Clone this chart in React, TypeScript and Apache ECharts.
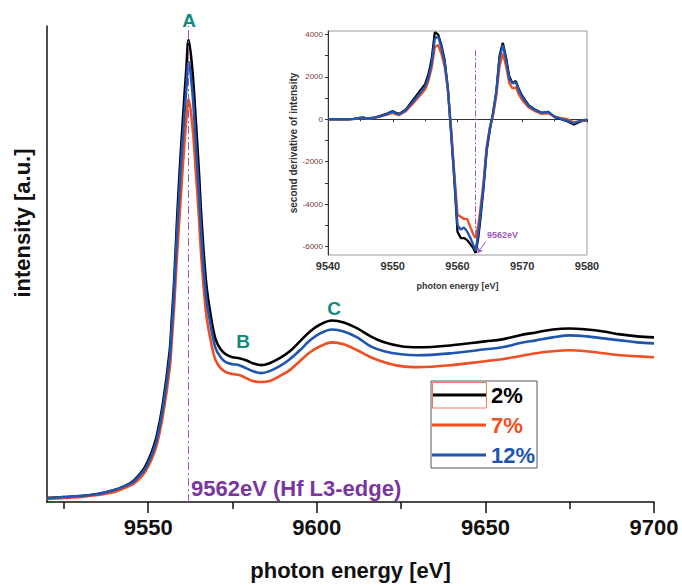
import React, { useEffect, useRef } from 'react';
import * as echarts from 'echarts';

const FONT = '"Liberation Sans", Arial, Helvetica, sans-serif';

// ---------- main XANES spectra (photon energy [eV] vs intensity [a.u.]) ----------
const energy = [
  9520, 9525, 9530, 9535, 9540, 9543, 9545.5, 9547, 9549, 9551,
  9552.5, 9554.4, 9556.4, 9557, 9557.7, 9558.5, 9559.4, 9560.3, 9561.3, 9562,
  9563.1, 9564.1, 9565, 9565.8, 9567.2, 9568.7, 9570, 9571.5, 9573, 9575,
  9577, 9579, 9581, 9583.5, 9586, 9589, 9592, 9595, 9598, 9601,
  9604.5, 9608, 9612, 9616, 9620, 9625, 9630, 9640, 9650, 9655,
  9660, 9665, 9670, 9675, 9680, 9685, 9690, 9695, 9700,
];
const int2 = [
  4, 5, 6, 8, 12, 16, 21, 26, 35, 50,
  66, 100, 153, 184, 222, 280, 337, 386, 436, 466,
  436, 386, 336, 286, 221, 185, 164, 154, 149, 146,
  145, 143, 140, 138, 140, 145, 152, 162, 172, 179,
  183, 181, 175, 167, 161, 157, 156, 158, 162, 164,
  168, 171, 174, 175, 174, 172, 169, 167, 166,
];
const int7 = [
  3, 4, 5, 7, 10, 14, 18, 22, 30, 43,
  57, 88, 135, 162, 197, 245, 293, 340, 385, 406,
  380, 335, 290, 245, 190, 160, 143, 135, 131, 129,
  128, 125, 122, 121, 122, 127, 133, 142, 151, 157,
  161, 159, 153, 146, 141, 137, 136, 138, 142, 144,
  147, 150, 152, 153, 152, 150, 148, 147, 146,
];
const int12 = [
  4, 5, 6, 8, 12, 16, 20, 25, 33, 47,
  62, 95, 146, 176, 213, 268, 322, 369, 416, 444,
  414, 364, 316, 268, 207, 175, 155, 146, 141, 139,
  138, 135, 132, 130, 132, 137, 144, 153, 163, 170,
  174, 172, 166, 157, 152, 149, 148, 150, 154, 156,
  160, 163, 166, 168, 167, 165, 163, 161, 160,
];

// ---------- inset: second derivative of intensity ----------
const insetEnergy = [
  9540, 9541, 9542, 9543, 9544, 9545, 9545.5, 9546, 9547, 9548,
  9549, 9550, 9550.5, 9551, 9552, 9553, 9554, 9555, 9555.5, 9556,
  9556.5, 9557, 9557.5, 9558, 9558.5, 9559, 9559.5, 9560, 9560.5, 9561,
  9561.5, 9562, 9562.4, 9562.8, 9563.2, 9563.5, 9564, 9564.5, 9565, 9565.5,
  9566, 9566.5, 9567, 9567.5, 9568, 9568.5, 9569, 9569.5, 9570, 9571,
  9572, 9573, 9574, 9575, 9576, 9577, 9578, 9579, 9580,
];
const d2of2 = [
  0, 0, 0, 0, 20, 60, 80, 30, 70, 150,
  250, 380, 300, 250, 450, 850, 1250, 1650, 2100, 2800,
  4100, 4000, 3500, 2800, 1500, -600, -2800, -5300, -5600, -5600,
  -5700, -5900, -6050, -6300, -5600, -4800, -3300, -1500, -500, 300,
  1300, 3000, 3600, 2900, 2000, 1700, 1800, 1400, 1100, 650,
  450, 300, 350, 100, 0, -100, -250, -100, -50,
];
const d2of7 = [
  0, 0, 0, 0, 10, 50, 60, 20, 50, 120,
  200, 300, 230, 200, 380, 700, 1050, 1400, 1800, 2400,
  3400, 3500, 3100, 2500, 1400, -400, -2500, -4500, -4600, -4700,
  -4700, -5100, -5400, -5600, -5000, -4300, -3000, -1300, -400, 200,
  1100, 2500, 3100, 2500, 1700, 1450, 1500, 1150, 900, 550,
  380, 250, 280, 120, 50, 0, -150, -80, -60,
];
const d2of12 = [
  0, 0, 0, 0, 20, 80, 80, 30, 60, 130,
  230, 360, 280, 240, 420, 780, 1150, 1550, 1950, 2600,
  3800, 3900, 3400, 2700, 1500, -500, -2700, -5000, -5200, -5100,
  -5300, -5600, -5900, -6200, -5400, -4600, -3200, -1400, -400, 300,
  1300, 2900, 3500, 2800, 1900, 1700, 1750, 1350, 1050, 620,
  430, 300, 350, 120, 20, -80, -200, -60, -20,
];

const seriesNames = ['2%', '7%', '12%'];
const mainTicks = [9550, 9600, 9650, 9700];
const mainMinorTicks = [9525, 9575, 9625, 9675];
const insetYLabels = [-6000, -4000, -2000, 0, 2000, 4000];
const insetYTicks = [-6000, -5000, -4000, -3000, -2000, -1000, 0, 1000, 2000, 3000, 4000];
const edgeEnergy = 9562;
const insetEdgeEnergy = 9562.8;

const C_BLACK = '#000000';
const C_ORANGE = '#f04e23';
const C_BLUE = '#1f55b0';
const C_TEAL = '#14887c';
const C_PURPLE = '#7a35a0';
const C_PURPLE_LIGHT = '#9b59b6';

const pairs = (xs: number[], ys: number[]) => xs.map((x, i) => [x, ys[i]]);
const plain = (v: number) => String(v);

export default function App() {
  const ref = useRef<HTMLDivElement>(null);

  useEffect(() => {
    if (!ref.current) return;
    const chart = echarts.init(ref.current, undefined, { renderer: 'svg' });

    const mainLine = (name: string, data: number[], color: string, extra: any = {}) => ({
      type: 'line',
      name,
      xAxisIndex: 0,
      yAxisIndex: 0,
      data: pairs(energy, data),
      symbol: 'none',
      showSymbol: false,
      smooth: 0.35,
      lineStyle: { color, width: 2.6 },
      itemStyle: { color },
      ...extra,
    });
    const insetLine = (name: string, data: number[], color: string, extra: any = {}) => ({
      type: 'line',
      name,
      xAxisIndex: 2,
      yAxisIndex: 1,
      data: pairs(insetEnergy, data),
      symbol: 'none',
      showSymbol: false,
      lineStyle: { color, width: 2.3 },
      itemStyle: { color },
      ...extra,
    });

    const option: any = {
      animation: false,
      backgroundColor: '#ffffff',
      textStyle: { fontFamily: FONT },
      grid: [
        { left: 47, right: 28, top: 26, bottom: 80 },
        {
          left: 328, right: 95, top: 31, bottom: 331,
          show: true, borderColor: '#9a9a9a', borderWidth: 1, backgroundColor: 'transparent',
        },
      ],
      legend: {
        show: true,
        orient: 'vertical',
        left: 431,
        top: 381,
        padding: [3, 2, 2, 1],
        itemGap: 8,
        itemWidth: 54,
        itemHeight: 3,
        icon: 'rect',
        borderColor: '#555555',
        borderWidth: 1,
        backgroundColor: '#ffffff',
        selectedMode: false,
        textStyle: { fontSize: 22, fontWeight: 'bold', fontFamily: FONT, lineHeight: 22 },
        data: [
          { name: seriesNames[0], textStyle: { color: C_BLACK } },
          { name: seriesNames[1], textStyle: { color: C_ORANGE } },
          { name: seriesNames[2], textStyle: { color: C_BLUE } },
        ],
      },
      xAxis: [
        {
          type: 'value', gridIndex: 0, min: 9520, max: 9700,
          axisLine: { show: true, lineStyle: { color: '#111', width: 1.5 } },
          axisTick: { show: true, inside: false, length: 11, customValues: mainTicks, lineStyle: { color: '#111', width: 1.5 } },
          axisLabel: {
            show: true, customValues: mainTicks, margin: 14, showMaxLabel: true, showMinLabel: true,
            formatter: plain,
            fontSize: 22, fontWeight: 'bold', color: '#111', fontFamily: FONT,
          },
          splitLine: { show: false },
          name: 'photon energy [eV]', nameLocation: 'middle', nameGap: 57,
          nameTextStyle: { fontSize: 22, fontWeight: 'bold', color: '#111', fontFamily: FONT },
        },
        {
          type: 'value', gridIndex: 0, min: 9520, max: 9700, position: 'bottom',
          axisLine: { show: false },
          axisTick: { show: true, inside: false, length: 7, customValues: mainMinorTicks, lineStyle: { color: '#111', width: 1.5 } },
          axisLabel: { show: false },
          splitLine: { show: false },
        },
        {
          type: 'value', gridIndex: 1, min: 9540, max: 9580, interval: 10,
          axisLine: { show: true, lineStyle: { color: '#333', width: 1 } },
          axisTick: { show: true, inside: false, length: 3, lineStyle: { color: '#333' } },
          minorTick: { show: true, splitNumber: 2, length: 2, lineStyle: { color: '#333' } },
          axisLabel: {
            show: true, margin: 5, formatter: plain,
            fontSize: 11, fontWeight: 'bold', color: '#333', fontFamily: FONT,
          },
          splitLine: { show: false },
          name: 'photon energy [eV]', nameLocation: 'middle', nameGap: 26,
          nameTextStyle: { fontSize: 9, fontWeight: 'bold', color: '#333', fontFamily: FONT },
        },
      ],
      yAxis: [
        {
          type: 'value', gridIndex: 0, min: 0, max: 480,
          axisLine: { show: true, lineStyle: { color: '#111', width: 1.5 } },
          axisTick: { show: false },
          axisLabel: { show: false },
          splitLine: { show: false },
        },
        {
          type: 'value', gridIndex: 1, min: -6400, max: 4160,
          axisLine: { show: true, lineStyle: { color: '#333', width: 1 } },
          axisTick: { show: true, inside: false, length: 3, customValues: insetYTicks, lineStyle: { color: '#333' } },
          axisLabel: {
            show: true, customValues: insetYLabels, margin: 5, formatter: plain,
            fontSize: 8, color: '#7a3a3a', fontFamily: FONT,
          },
          splitLine: { show: false },
          name: 'second derivative of intensity', nameLocation: 'middle', nameGap: 27,
          nameTextStyle: { fontSize: 10, fontWeight: 'bold', color: '#333', fontFamily: FONT },
        },
      ],
      series: [
        mainLine(seriesNames[0], int2, C_BLACK),
        mainLine(seriesNames[1], int7, C_ORANGE),
        mainLine(seriesNames[2], int12, C_BLUE, {
          markLine: {
            silent: true,
            symbol: 'none',
            label: { show: false },
            lineStyle: { color: C_PURPLE_LIGHT, width: 1, type: [8, 3, 2, 3] },
            data: [{ xAxis: edgeEnergy }],
          },
        }),
        insetLine('d2 ' + seriesNames[0], d2of2, C_BLACK),
        insetLine('d2 ' + seriesNames[1], d2of7, C_ORANGE, {
          markLine: {
            silent: true,
            symbol: ['none', 'arrow'],
            symbolSize: 5,
            label: { show: false },
            lineStyle: { color: C_PURPLE_LIGHT, width: 1, type: 'solid' },
            data: [[{ coord: [9564.3, -5800] }, { coord: [9563.1, -6300] }]],
          },
        }),
        insetLine('d2 ' + seriesNames[2], d2of12, C_BLUE, {
          markLine: {
            silent: true,
            symbol: 'none',
            label: { show: false },
            lineStyle: { color: C_PURPLE_LIGHT, width: 1, type: [6, 2, 2, 2] },
            data: [[{ coord: [insetEdgeEnergy, 3250] }, { coord: [insetEdgeEnergy, -5400] }]],
          },
        }),
      ],
      graphic: [
        {
          type: 'text', x: 22, y: 223, rotation: Math.PI / 2,
          style: { text: 'intensity [a.u.]', fontSize: 22, fontWeight: 'bold', fontFamily: FONT, fill: '#111', align: 'center', verticalAlign: 'middle' },
        },
        {
          type: 'text', x: 189, y: 20,
          style: { text: 'A', fontSize: 19, fontWeight: 'bold', fontFamily: FONT, fill: C_TEAL, align: 'center', verticalAlign: 'middle' },
        },
        {
          type: 'text', x: 243, y: 341,
          style: { text: 'B', fontSize: 19, fontWeight: 'bold', fontFamily: FONT, fill: C_TEAL, align: 'center', verticalAlign: 'middle' },
        },
        {
          type: 'text', x: 334, y: 308,
          style: { text: 'C', fontSize: 19, fontWeight: 'bold', fontFamily: FONT, fill: C_TEAL, align: 'center', verticalAlign: 'middle' },
        },
        {
          type: 'text', x: 191, y: 488,
          style: { text: '9562eV (Hf L3-edge)', fontSize: 22, fontWeight: 'bold', fontFamily: FONT, fill: C_PURPLE, align: 'left', verticalAlign: 'middle' },
        },
        {
          type: 'text', x: 487, y: 235,
          style: { text: '9562eV', fontSize: 9, fontWeight: 'bold', fontFamily: FONT, fill: C_PURPLE_LIGHT, align: 'left', verticalAlign: 'middle' },
        },
        {
          type: 'rect', z: 100,
          shape: { x: 432.5, y: 382.5, width: 54, height: 25.5 },
          style: { fill: 'none', stroke: '#f07a5a', lineWidth: 1 },
        },
      ],
    };

    chart.setOption(option);
    return () => chart.dispose();
  }, []);

  return (
    <div
      ref={ref}
      style={{ position: 'absolute', left: 0, top: 0, width: 682, height: 586, background: '#fff' }}
    />
  );
}
